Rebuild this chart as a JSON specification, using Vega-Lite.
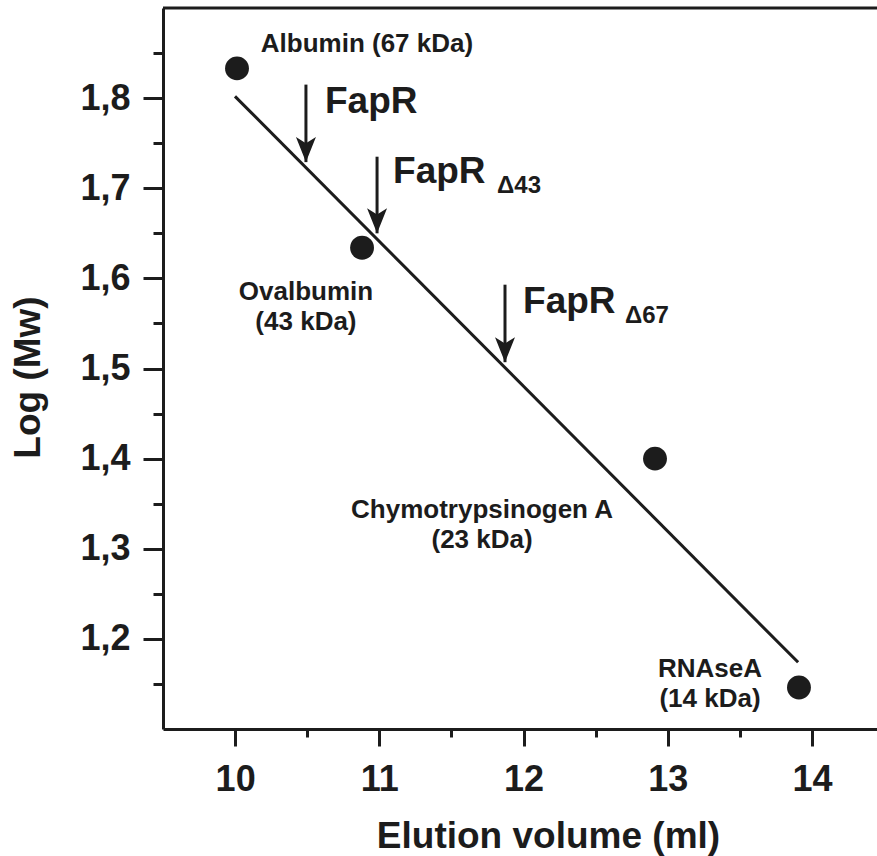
{
  "$schema": "https://vega.github.io/schema/vega-lite/v6.json",
  "width": 714,
  "height": 721,
  "autosize": {"type": "none"},
  "padding": {"left": 163, "top": 8, "right": 0, "bottom": 127},
  "background": "white",
  "config": {
    "view": {"stroke": null},
    "font": "Liberation Sans"
  },
  "datasets": {
    "standards": [
      {"protein": "Albumin", "volume": 10.013, "logmw": 1.833},
      {"protein": "Ovalbumin", "volume": 10.88, "logmw": 1.634},
      {"protein": "Chymotrypsinogen A", "volume": 12.911, "logmw": 1.4},
      {"protein": "RNAseA", "volume": 13.909, "logmw": 1.146}
    ],
    "fit": [
      {"volume": 9.999, "logmw": 1.802},
      {"volume": 13.903, "logmw": 1.174}
    ],
    "arrows": [
      {"protein": "FapR", "volume": 10.491, "top": 1.815, "tip": 1.729},
      {"protein": "FapR Δ43", "volume": 10.984, "top": 1.735, "tip": 1.65},
      {"protein": "FapR Δ67", "volume": 11.871, "top": 1.593, "tip": 1.507}
    ],
    "names": [
      {"text": "Albumin (67 kDa)", "volume": 10.914, "logmw": 1.8512},
      {"text": "Ovalbumin", "volume": 10.491, "logmw": 1.576},
      {"text": "(43 kDa)", "volume": 10.491, "logmw": 1.5426},
      {"text": "Chymotrypsinogen A", "volume": 11.712, "logmw": 1.334},
      {"text": "(23 kDa)", "volume": 11.712, "logmw": 1.3007},
      {"text": "RNAseA", "volume": 13.292, "logmw": 1.1575},
      {"text": "(14 kDa)", "volume": 13.292, "logmw": 1.1242}
    ],
    "fapr": [
      {"text": "FapR", "volume": 10.623, "logmw": 1.7835},
      {"text": "FapR", "volume": 11.095, "logmw": 1.7058},
      {"text": "FapR", "volume": 11.996, "logmw": 1.5615}
    ],
    "subs": [
      {"text": "Δ43", "volume": 11.816, "logmw": 1.6947},
      {"text": "Δ67", "volume": 12.703, "logmw": 1.5504}
    ],
    "border": [
      {"logmw": 1.9}
    ]
  },
  "resolve": {"axis": {"x": "independent", "y": "independent"}},
  "layer": [
    {
      "data": {"name": "standards"},
      "mark": {"type": "point", "shape": "circle", "filled": true, "size": 570, "color": "#1c1c1c", "opacity": 1},
      "encoding": {
        "x": {
          "field": "volume", "type": "quantitative",
          "scale": {"domain": [9.5, 14.45], "nice": false, "zero": false},
          "axis": {
            "orient": "bottom",
            "title": "Elution volume (ml)",
            "values": [10, 11, 12, 13, 14],
            "format": "d",
            "tickSize": 17,
            "tickWidth": 3, "tickColor": "#1c1c1c",
            "domainWidth": 3, "domainColor": "#1c1c1c",
            "grid": false,
            "labelFont": "Liberation Sans", "labelFontSize": 36, "labelFontWeight": "bold", "labelColor": "#1c1c1c",
            "labelBaseline": "alphabetic", "labelPadding": 44, "labelFlush": false, "labelOverlap": false,
            "titleFont": "Liberation Sans", "titleFontSize": 37, "titleFontWeight": "bold", "titleColor": "#1c1c1c",
            "titleX": 385, "titleY": 118, "titleAlign": "center", "titleBaseline": "alphabetic"
          }
        },
        "y": {
          "field": "logmw", "type": "quantitative",
          "scale": {"domain": [1.1, 1.9], "nice": false, "zero": false},
          "axis": {
            "orient": "left",
            "title": "Log (Mw)",
            "values": [1.2, 1.3, 1.4, 1.5, 1.6, 1.7, 1.8],
            "labelExpr": "replace(format(datum.value, '.1f'), '.', ',')",
            "tickSize": 20,
            "tickWidth": 3, "tickColor": "#1c1c1c",
            "domainWidth": 3, "domainColor": "#1c1c1c",
            "grid": false,
            "labelFont": "Liberation Sans", "labelFontSize": 36, "labelFontWeight": "bold", "labelColor": "#1c1c1c",
            "labelPadding": 13, "labelFlush": false, "labelOverlap": false,
            "titleFont": "Liberation Sans", "titleFontSize": 37, "titleFontWeight": "bold", "titleColor": "#1c1c1c",
            "titleX": -135, "titleY": 369, "titleAngle": -90, "titleAlign": "center", "titleBaseline": "middle"
          }
        }
      }
    },
    {
      "data": {"name": "fit"},
      "mark": {"type": "line", "color": "#1c1c1c", "strokeWidth": 3},
      "encoding": {
        "x": {
          "field": "volume", "type": "quantitative",
          "axis": {
            "orient": "bottom", "title": null, "values": [10.5, 11.5, 12.5, 13.5],
            "labels": false, "domain": false, "grid": false,
            "tickSize": 8, "tickWidth": 3, "tickColor": "#1c1c1c"
          }
        },
        "y": {
          "field": "logmw", "type": "quantitative",
          "axis": {
            "orient": "left", "title": null, "values": [1.15, 1.25, 1.35, 1.45, 1.55, 1.65, 1.75, 1.85],
            "labels": false, "domain": false, "grid": false,
            "tickSize": 10, "tickWidth": 3, "tickColor": "#1c1c1c"
          }
        }
      }
    },
    {
      "data": {"name": "border"},
      "mark": {"type": "rule", "color": "#1c1c1c", "strokeWidth": 3},
      "encoding": {
        "y": {"field": "logmw", "type": "quantitative", "axis": null}
      }
    },
    {
      "data": {"name": "arrows"},
      "mark": {"type": "rule", "color": "#1c1c1c", "strokeWidth": 3},
      "encoding": {
        "x": {"field": "volume", "type": "quantitative", "axis": null},
        "y": {"field": "top", "type": "quantitative", "axis": null},
        "y2": {"field": "tip"}
      }
    },
    {
      "data": {"name": "arrows"},
      "mark": {"type": "point", "shape": "M0,0L-0.8,-2L0,-1.5L0.8,-2Z", "filled": true, "size": 625, "color": "#1c1c1c", "opacity": 1, "strokeWidth": 0},
      "encoding": {
        "x": {"field": "volume", "type": "quantitative", "axis": null},
        "y": {"field": "tip", "type": "quantitative", "axis": null}
      }
    },
    {
      "data": {"name": "names"},
      "mark": {"type": "text", "align": "center", "baseline": "alphabetic", "font": "Liberation Sans", "fontSize": 26, "fontWeight": "bold", "color": "#1c1c1c"},
      "encoding": {
        "x": {"field": "volume", "type": "quantitative", "axis": null},
        "y": {"field": "logmw", "type": "quantitative", "axis": null},
        "text": {"field": "text"}
      }
    },
    {
      "data": {"name": "fapr"},
      "mark": {"type": "text", "align": "left", "baseline": "alphabetic", "font": "Liberation Sans", "fontSize": 37, "fontWeight": "bold", "color": "#1c1c1c"},
      "encoding": {
        "x": {"field": "volume", "type": "quantitative", "axis": null},
        "y": {"field": "logmw", "type": "quantitative", "axis": null},
        "text": {"field": "text"}
      }
    },
    {
      "data": {"name": "subs"},
      "mark": {"type": "text", "align": "left", "baseline": "alphabetic", "font": "Liberation Sans", "fontSize": 24, "fontWeight": "bold", "color": "#1c1c1c"},
      "encoding": {
        "x": {"field": "volume", "type": "quantitative", "axis": null},
        "y": {"field": "logmw", "type": "quantitative", "axis": null},
        "text": {"field": "text"}
      }
    }
  ]
}
